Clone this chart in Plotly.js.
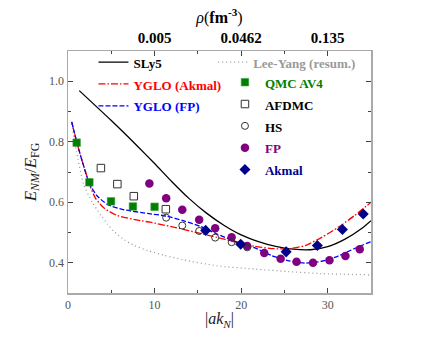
<!DOCTYPE html>
<html>
<head>
<meta charset="utf-8">
<script src="https://cdn.plot.ly/plotly-3.0.1.min.js"></script>
<style>
  body { margin: 0; background: #fff; }
  #chart { width: 437px; height: 350px; }
</style>
</head>
<body>
<div id="chart"></div>
<script>
// curves (|ak_N| vs E_NM/E_FG)
const sly5_x = [1.3, 5, 8, 10, 12, 14, 16, 18, 20, 22, 24, 26, 28, 30, 32, 34, 35];
const sly5_y = [0.969, 0.870, 0.786, 0.728, 0.668, 0.612, 0.564, 0.524, 0.492, 0.470, 0.454, 0.445, 0.443, 0.453, 0.478, 0.515, 0.539];

const yglo_akmal_x = [0.43, 1.0, 1.7, 2.5, 3.2, 4.2, 5.7, 8.4, 9.5, 12.3, 15.3, 17.2, 19.1, 21.6, 23.5, 25.4, 27.4, 29.3, 31.2, 33.1, 35.0];
const yglo_akmal_y = [0.866, 0.80, 0.73, 0.658, 0.612, 0.58, 0.556, 0.539, 0.534, 0.517, 0.497, 0.484, 0.47, 0.454, 0.447, 0.446, 0.457, 0.484, 0.517, 0.556, 0.60];

const yglo_fp_x = [0.43, 1.0, 1.7, 2.5, 3.4, 4.6, 6.5, 9.2, 11.4, 13.3, 15.3, 17.2, 19.1, 21.6, 23.5, 25.4, 27.4, 29.3, 31.2, 33.1, 35.0];
const yglo_fp_y = [0.866, 0.80, 0.73, 0.66, 0.62, 0.592, 0.575, 0.563, 0.554, 0.539, 0.52, 0.495, 0.473, 0.449, 0.424, 0.407, 0.399, 0.405, 0.422, 0.447, 0.47];

const lee_yang_x = [0.43, 1.0, 1.8, 2.8, 3.8, 4.6, 5.35, 6.5, 7.65, 9.2, 11.1, 13.3, 17.2, 21.6, 25.4, 29.3, 35.0];
const lee_yang_y = [0.86, 0.765, 0.66, 0.60, 0.557, 0.527, 0.502, 0.476, 0.457, 0.44, 0.425, 0.41, 0.39, 0.379, 0.371, 0.364, 0.36];

// data points
const qmc_x = [1.0, 2.47, 4.97, 7.5, 10.0];
const qmc_y = [0.797, 0.666, 0.603, 0.586, 0.585];

const afdmc_x = [3.8, 5.7, 7.6, 11.3];
const afdmc_y = [0.713, 0.66, 0.62, 0.577];

const hs_x = [11.34, 13.2, 15.15, 17.0, 18.9, 20.7];
const hs_y = [0.549, 0.523, 0.505, 0.483, 0.468, 0.451];

const fp_x = [9.4, 11.34, 13.2, 15.15, 17.0, 18.9, 20.7, 22.67, 24.56, 26.4, 28.3, 30.2, 32.05, 33.7];
const fp_y = [0.662, 0.613, 0.575, 0.542, 0.514, 0.484, 0.455, 0.432, 0.413, 0.403, 0.40, 0.408, 0.422, 0.445];

const akmal_x = [15.9, 19.95, 25.2, 28.8, 31.7, 34.1];
const akmal_y = [0.507, 0.461, 0.436, 0.457, 0.51, 0.561];

// top axis (density)
const rho_tickvals = [10, 20, 30];
const rho_ticktext = ["0.005", "0.0462", "0.135"];

const serif = "'Liberation Serif', 'DejaVu Serif', serif";
const label = (txt, col) => `<span style="color:${col};font-size:13px"><b>${txt}</b></span>`;

const line_trace = (x, y, name, color, dash, legend) => ({
    x, y, name: label(name, color),
    mode: "lines", type: "scatter",
    line: {color, width: 1.3, dash, shape: "spline", smoothing: 0.6},
    legend,
});

const marker_trace = (x, y, name, textcolor, marker, rank) => ({
    x, y, name: label(name, textcolor),
    mode: "markers", type: "scatter",
    marker, legend: "legend3", legendrank: rank,
});

const data = [
    line_trace(lee_yang_x, lee_yang_y, "Lee-Yang (resum.)", "#9a9a9a", "1px,3px", "legend2"),
    line_trace(sly5_x, sly5_y, "SLy5", "black", "solid", "legend"),
    line_trace(yglo_akmal_x, yglo_akmal_y, "YGLO (Akmal)", "red", "7px,2px,1.5px,2px", "legend"),
    line_trace(yglo_fp_x, yglo_fp_y, "YGLO (FP)", "blue", "5px,2px", "legend"),
    marker_trace(qmc_x, qmc_y, "QMC AV4", "green",
        {symbol: "square", size: 7.5, color: "green", line: {color: "#3a9a3a", width: 0.6}}, 1),
    marker_trace(afdmc_x, afdmc_y, "AFDMC", "black",
        {symbol: "square-open", size: 7.5, color: "#333", line: {width: 1}}, 2),
    marker_trace(fp_x, fp_y, "FP", "purple",
        {symbol: "circle", size: 8.5, color: "purple"}, 4),
    marker_trace(hs_x, hs_y, "HS", "black",
        {symbol: "circle-open", size: 7, color: "#333", line: {width: 1}}, 3),
    marker_trace(akmal_x, akmal_y, "Akmal", "#00008b",
        {symbol: "diamond", size: 8.5, color: "#00008b"}, 5),
    {x: rho_tickvals, y: [null, null, null], xaxis: "x2", mode: "markers",
     showlegend: false, hoverinfo: "skip"},
];

const axis_common = {
    showline: true, linecolor: "#aaaaaa", linewidth: 1.5, mirror: "ticks",
    ticks: "inside", ticklen: 5, tickcolor: "#444", tickwidth: 1,
    showgrid: false, zeroline: false,
    tickfont: {family: serif, size: 12, color: "#555"},
};

const legend_common = {
    font: {family: serif, size: 14.5},
    bgcolor: "rgba(0,0,0,0)", borderwidth: 0,
    xanchor: "left", yanchor: "top",
    tracegroupgap: 0, itemclick: false,
};

const layout = {
    width: 437, height: 350,
    margin: {l: 67.6, r: 65.7, t: 51, b: 56.7},
    paper_bgcolor: "white", plot_bgcolor: "white",
    font: {family: serif},
    xaxis: {
        ...axis_common,
        range: [0, 35], tick0: 0, dtick: 10,
        minor: {dtick: 5, ticklen: 3, ticks: "inside", tickcolor: "#444"},
        title: {text: "|<i>ak</i><sub><i>N</i></sub>|", font: {family: serif, size: 16, color: "#222"}, standoff: 2},
    },
    xaxis2: {
        overlaying: "x", side: "top", anchor: "y",
        range: [0, 35], tickmode: "array",
        tickvals: rho_tickvals, ticktext: rho_ticktext.map(t => `<b>${t}</b>`),
        ticks: "", showline: false, showgrid: false, zeroline: false,
        ticklabelstandoff: 4,
        tickfont: {family: serif, size: 15, color: "black"},
        title: {text: "<i>ρ</i>(<b>fm</b><sup><b>-3</b></sup>)", font: {family: serif, size: 16, color: "black"}, standoff: 2},
    },
    yaxis: {
        ...axis_common,
        range: [0.3, 1.1], tick0: 0, dtick: 0.2, tickformat: ".1f",
        minor: {dtick: 0.1, ticklen: 3, ticks: "inside", tickcolor: "#444"},
        title: {text: "<i>E</i><sub><i>NM</i></sub>/<i>E</i><sub>FG</sub>", font: {family: serif, size: 17, color: "#222"}, standoff: 8},
    },
    legend: {...legend_common, x: 0.084, y: 1.02},
    legend2: {...legend_common, x: 0.479, y: 1.02},
    legend3: {...legend_common, x: 0.518, y: 0.937},
};

Plotly.newPlot("chart", data, layout, {displayModeBar: false, staticPlot: true});
</script>
</body>
</html>
